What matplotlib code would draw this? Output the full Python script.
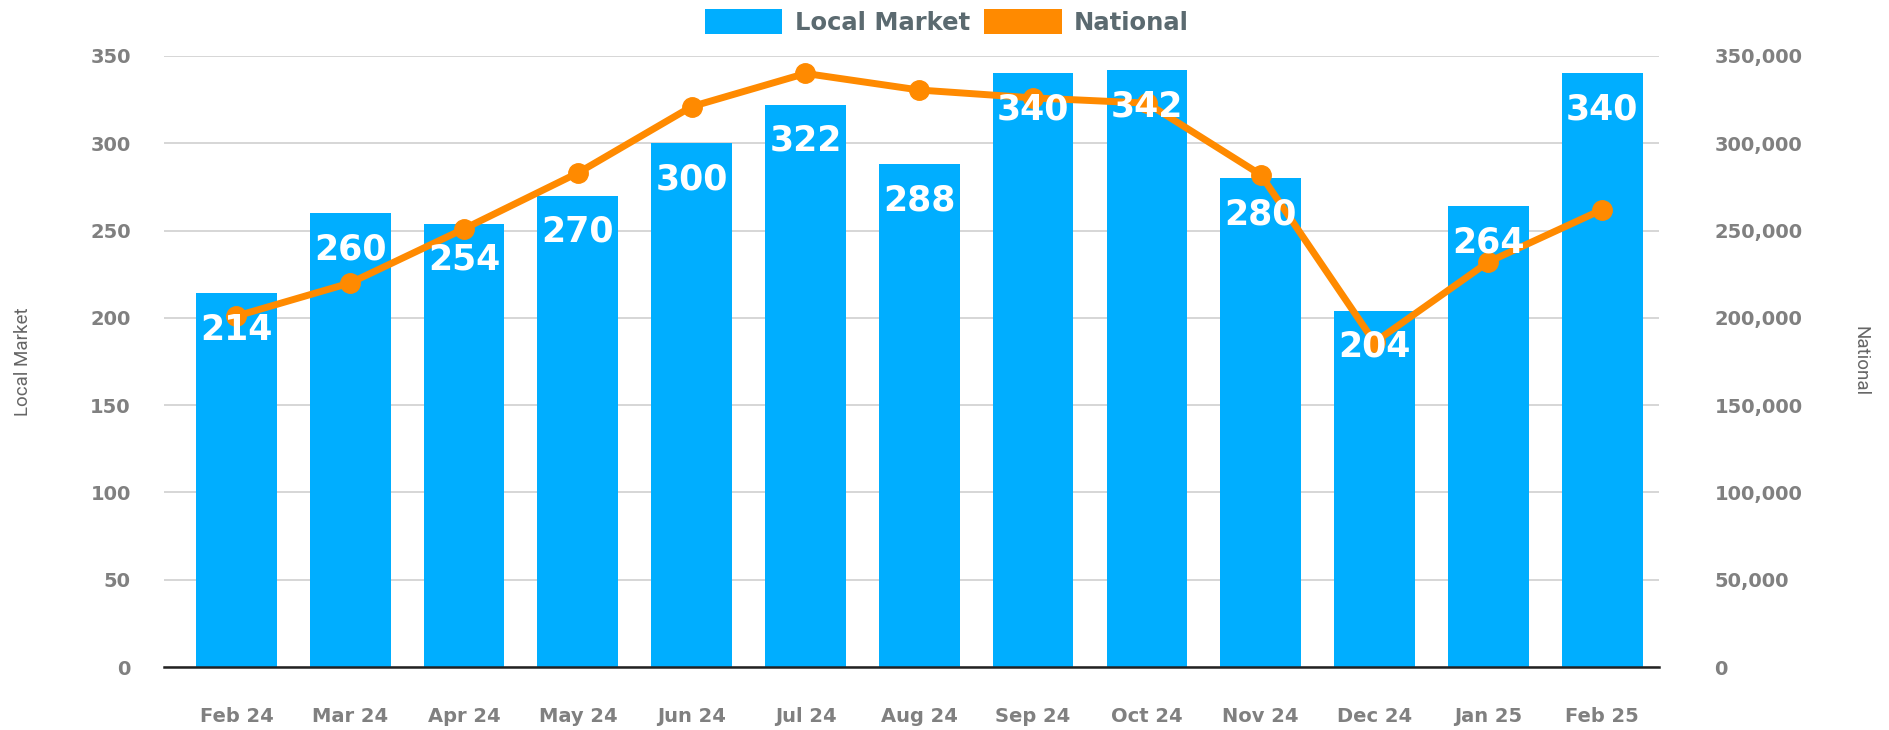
import numpy as np
import matplotlib.pyplot as plt
from matplotlib.patches import Patch
from matplotlib.ticker import FuncFormatter

# dados
meses = ['Feb 24', 'Mar 24', 'Apr 24', 'May 24', 'Jun 24', 'Jul 24', 'Aug 24',
         'Sep 24', 'Oct 24', 'Nov 24', 'Dec 24', 'Jan 25', 'Feb 25']
local_market = [214, 260, 254, 270, 300, 322, 288, 340, 342, 280, 204, 264, 340]
national = [201000, 220000, 251000, 283000, 321000, 340000, 330500,
            326000, 323000, 282000, 186000, 232000, 262000]

azul = '#00AEFF'
laranja = '#FF8A00'
cinza = '#808080'

fig = plt.figure(figsize=(18.9, 7.3), dpi=100)
ax = fig.add_axes([0.0868, 0.0863, 0.7910, 0.8370])
ax2 = ax.twinx()

x = np.arange(len(meses))
ax.bar(x, local_market, width=0.71, color=azul, zorder=2)
ax2.plot(x, national, color=laranja, linewidth=5, marker='o', markersize=14, zorder=3)

# rótulos das barras por cima da linha
for i, v in enumerate(local_market):
    ax2.annotate(str(v), xy=(i, v), xycoords=ax.transData, xytext=(0, -26),
                 textcoords='offset points', ha='center', va='center',
                 color='white', fontsize=25, fontweight='bold', family='DejaVu Sans',
                 zorder=5)

ax.set_xlim(-0.636, 12.5)
ax.set_ylim(0, 350)
ax2.set_ylim(0, 350000)
ax.set_yticks(range(0, 351, 50))
ax2.set_yticks(range(0, 350001, 50000))
ax2.yaxis.set_major_formatter(FuncFormatter(lambda v, p: f'{int(v):,}'))

ax.set_xticks(x)
ax.set_xticklabels(meses)
ax.grid(axis='y', color='#d3d3d3', linewidth=1.3, zorder=0)
ax.set_axisbelow(True)

for a in (ax, ax2):
    for s in ('top', 'left', 'right', 'bottom'):
        a.spines[s].set_visible(False)
ax.spines['bottom'].set_visible(True)
ax.spines['bottom'].set_color('#222222')
ax.spines['bottom'].set_linewidth(1.8)

ax.tick_params(axis='x', length=0, pad=29, labelsize=14, labelcolor=cinza)
ax.tick_params(axis='y', length=0, pad=24, labelsize=14, labelcolor=cinza)
ax2.tick_params(axis='y', length=0, pad=40, labelsize=14, labelcolor=cinza)
for lbl in ax.get_xticklabels() + ax.get_yticklabels() + ax2.get_yticklabels():
    lbl.set_fontweight('bold')

ax.set_ylabel('Local Market', fontsize=13.5, color='#666666', family='Roboto')
ax2.set_ylabel('National', fontsize=13.5, color='#666666', family='Roboto',
               rotation=270)
ax.yaxis.set_label_coords(-0.088, 0.5)
ax2.yaxis.set_label_coords(1.141, 0.5)

handles = [Patch(facecolor=azul), Patch(facecolor=laranja)]
leg = fig.legend(handles, ['Local Market', 'National'], loc='center',
                 bbox_to_anchor=(0.501, 0.970), ncol=2, frameon=False,
                 handlelength=3.2, handleheight=1.2, handletextpad=0.5,
                 columnspacing=0.6, prop={'weight': 'bold', 'size': 17.5})
for t in leg.get_texts():
    t.set_color('#5b6a70')

fig.savefig('out.png', dpi=100)
